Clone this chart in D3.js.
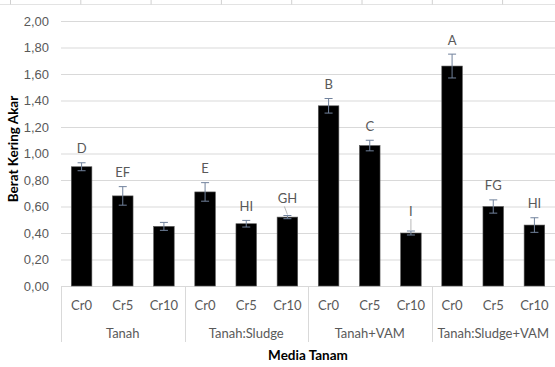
<!DOCTYPE html>
<html>
<head>
<meta charset="utf-8">
<script src="https://cdn.jsdelivr.net/npm/d3@7"></script>
<style>
  html, body { margin: 0; padding: 0; background: #fff; }
  svg { display: block; font-family: Lato, "Open Sans", "Liberation Sans", sans-serif; }
</style>
</head>
<body>
<svg id="chart" width="555" height="367"></svg>
<script>
// Media groups and chromium treatments
const groups = ["Tanah", "Tanah:Sludge", "Tanah+VAM", "Tanah:Sludge+VAM"];
const treatments = ["Cr0", "Cr5", "Cr10"];

// Mean root dry weight per group (Cr0, Cr5, Cr10)
const meanTanah = [0.90, 0.68, 0.45];
const meanSludge = [0.71, 0.47, 0.52];
const meanVAM = [1.36, 1.06, 0.40];
const meanSludgeVAM = [1.66, 0.60, 0.46];

// Standard error per bar
const errTanah = [0.03, 0.07, 0.03];
const errSludge = [0.07, 0.025, 0.012];
const errVAM = [0.055, 0.04, 0.015];
const errSludgeVAM = [0.09, 0.05, 0.055];

// Significance letters
const letters = ["D", "EF", "", "E", "HI", "GH", "B", "C", "I", "A", "FG", "HI"];

// Y-axis ticks
const yTicks = [0, 0.2, 0.4, 0.6, 0.8, 1.0, 1.2, 1.4, 1.6, 1.8, 2.0];

const means = [meanTanah, meanSludge, meanVAM, meanSludgeVAM];
const errs = [errTanah, errSludge, errVAM, errSludgeVAM];
const rows = [];
groups.forEach((g, gi) => treatments.forEach((t, ti) => {
  rows.push({ key: g + "|" + t, group: g, treat: t, value: means[gi][ti], err: errs[gi][ti] });
}));
rows.forEach((r, i) => r.letter = letters[i]);

const svg = d3.select("#chart");
const plotLeft = 61, plotRight = 555, plotTop = 21, plotBottom = 286;

const x = d3.scaleBand().domain(rows.map(r => r.key))
  .range([plotLeft, plotRight]).paddingInner(0.5).paddingOuter(0.25);
const y = d3.scaleLinear().domain([0, 2]).range([plotBottom, plotTop]);

const fmt = v => d3.format(".2f")(v).replace(".", ",");
const textCol = "#595959";
const fs = 13;

// faint frame line with small ticks along the top edge
svg.append("line").attr("x1", 0).attr("x2", 555).attr("y1", 4.5).attr("y2", 4.5)
  .attr("stroke", "#e3e3e3").attr("stroke-width", 1);
svg.append("g").selectAll("line").data(d3.range(8)).join("line")
  .attr("x1", i => 10.5 + i * 70.3).attr("x2", i => 10.5 + i * 70.3)
  .attr("y1", 0).attr("y2", 4.5).attr("stroke", "#d0d0d0");

// gridlines and y tick labels
const yAxis = d3.axisLeft(y).tickValues(yTicks).tickSize(-(plotRight - plotLeft)).tickFormat(fmt).tickPadding(12);
const yg = svg.append("g").attr("transform", `translate(${plotLeft},0)`).call(yAxis);
yg.select(".domain").remove();
yg.selectAll(".tick line").attr("stroke", "#d9d9d9");
yg.selectAll(".tick text").attr("fill", textCol).attr("font-size", fs);

// bars
svg.append("g").selectAll("rect").data(rows).join("rect")
  .attr("x", d => x(d.key)).attr("width", x.bandwidth())
  .attr("y", d => y(d.value)).attr("height", d => y(0) - y(d.value))
  .attr("fill", "#000").attr("stroke", "#5a5a5a").attr("stroke-width", 0.6);

// error bars
const eb = svg.append("g").attr("stroke", "#71829c").attr("stroke-width", 1);
rows.forEach(d => {
  const cx = x(d.key) + x.bandwidth() / 2;
  const y1 = y(d.value + d.err), y2 = y(d.value - d.err);
  eb.append("line").attr("x1", cx).attr("x2", cx).attr("y1", y1).attr("y2", y2);
  eb.append("line").attr("x1", cx - 4).attr("x2", cx + 4).attr("y1", y1).attr("y2", y1);
  eb.append("line").attr("x1", cx - 4).attr("x2", cx + 4).attr("y1", y2).attr("y2", y2);
});

// letter labels; a few sit higher and use a leader line
const lift = { "Tanah:Sludge|Cr10": 17, "Tanah+VAM|Cr10": 20 };
const lg = svg.append("g");
rows.forEach(d => {
  if (!d.letter) return;
  const cx = x(d.key) + x.bandwidth() / 2;
  const capY = y(d.value + d.err);
  const off = lift[d.key] || 14;
  lg.append("text").attr("x", cx).attr("y", capY - off).attr("dy", "0.35em")
    .attr("text-anchor", "middle").attr("fill", textCol).attr("font-size", fs).text(d.letter);
  if (lift[d.key]) {
    const lx = d.key === "Tanah:Sludge|Cr10" ? cx - 3 : cx;
    lg.append("line").attr("x1", lx).attr("y1", capY - off + 8).attr("x2", cx).attr("y2", capY - 1)
      .attr("stroke", "#a6a6a6").attr("stroke-width", 0.8);
  }
});

// category labels
svg.append("g").selectAll("text").data(rows).join("text")
  .attr("x", d => x(d.key) + x.bandwidth() / 2).attr("y", 305).attr("dy", "0.35em")
  .attr("text-anchor", "middle").attr("fill", textCol).attr("font-size", fs).text(d => d.treat);

// group labels and separators
const step = x.step();
groups.forEach((g, gi) => {
  const gx0 = plotLeft + gi * 3 * step;
  svg.append("text").attr("x", gx0 + 1.5 * step).attr("y", 333).attr("dy", "0.35em")
    .attr("text-anchor", "middle").attr("fill", textCol).attr("font-size", fs).text(g);
});
d3.range(groups.length + 1).forEach(i => {
  const sx = Math.round(plotLeft + i * 3 * step) + 0.5;
  svg.append("line").attr("x1", sx).attr("x2", sx).attr("y1", plotBottom).attr("y2", 342)
    .attr("stroke", "#d9d9d9");
});

// axis titles
svg.append("text").attr("x", (plotLeft + plotRight) / 2).attr("y", 355).attr("dy", "0.35em")
  .attr("text-anchor", "middle").attr("font-weight", "bold").attr("font-size", 13.5)
  .attr("fill", "#000").text("Media Tanam");
svg.append("text").attr("transform", "translate(13,149) rotate(-90)").attr("dy", "0.35em")
  .attr("text-anchor", "middle").attr("font-weight", "bold").attr("font-size", 13.5)
  .attr("fill", "#000").text("Berat Kering Akar");
</script>
</body>
</html>
